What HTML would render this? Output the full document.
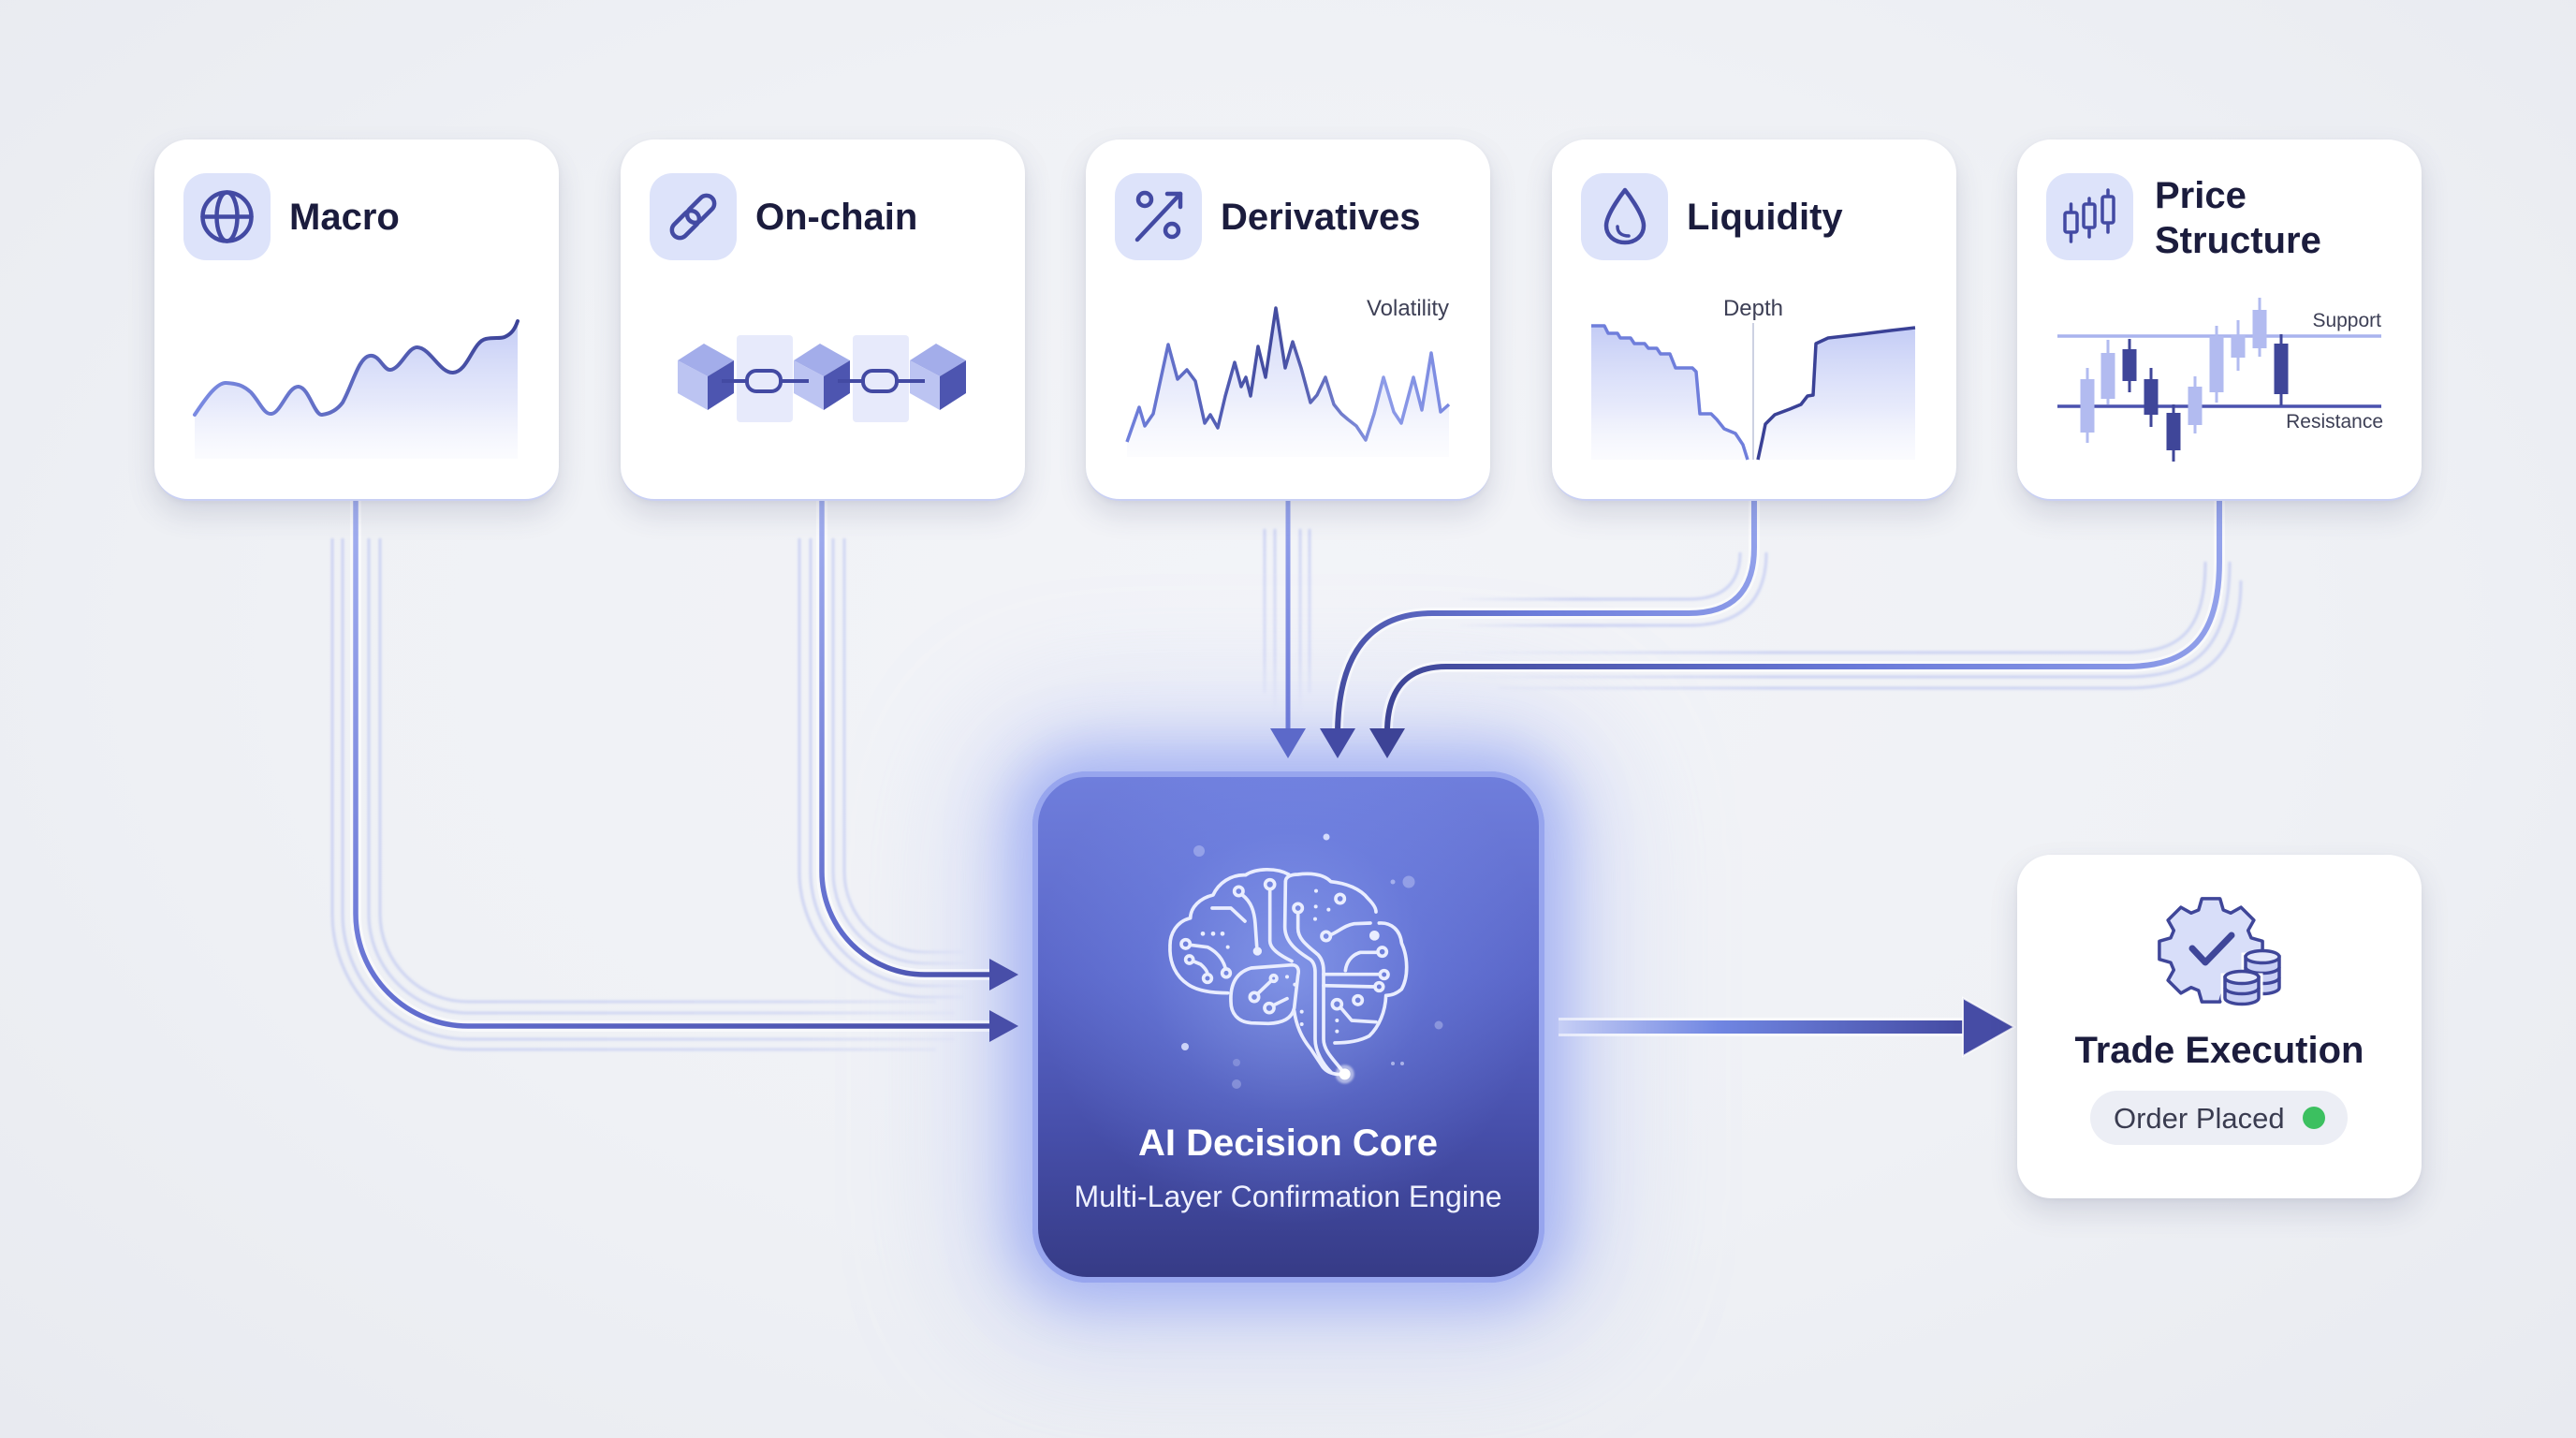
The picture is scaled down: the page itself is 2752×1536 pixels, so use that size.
<!DOCTYPE html>
<html><head><meta charset="utf-8">
<style>
html,body{margin:0;padding:0}
body{width:2752px;height:1536px;position:relative;overflow:hidden;background:#eef0f4;font-family:"Liberation Sans",Arial,sans-serif}
.bg{position:absolute;left:0;top:0;width:2752px;height:1536px;background:radial-gradient(ellipse at 50% 45%,#f3f4f8 0%,#eff1f5 55%,#e8eaf0 100%)}
.card{position:absolute;background:#fff;border-radius:36px;box-shadow:0 14px 30px rgba(60,70,110,0.16),0 2px 6px rgba(60,70,110,0.06);border-bottom:2px solid #c9d0f4;box-sizing:border-box}
.glow{position:absolute;left:1103px;top:824px;width:547px;height:546px;border-radius:58px;background:#8f9de8;box-shadow:0 0 60px 24px rgba(125,145,240,0.55),0 0 170px 70px rgba(165,180,245,0.35)}
.node{position:absolute;left:1103px;top:824px;width:547px;height:546px;border-radius:58px;box-sizing:border-box;border:6px solid #97a5ee;background:radial-gradient(circle at 50% 39%,rgba(160,185,255,0.55) 0,rgba(125,150,245,0.25) 150px,rgba(0,0,0,0) 270px),linear-gradient(180deg,#6f7edc 0%,#5a66c8 40%,#464ea9 72%,#363b86 100%)}
svg{position:absolute;left:0;top:0}
</style></head>
<body>
<div class="bg"></div>
<div class="glow"></div>

<svg width="2752" height="1536" viewBox="0 0 2752 1536" style="z-index:1">
<defs>
<linearGradient id="gMacro" gradientUnits="userSpaceOnUse" x1="380" y1="534" x2="1088" y2="1096"><stop offset="0" stop-color="#a3b0f0"/><stop offset="0.38" stop-color="#6470d2"/><stop offset="1" stop-color="#454ba4"/></linearGradient>
<linearGradient id="gChain" gradientUnits="userSpaceOnUse" x1="878" y1="534" x2="1088" y2="1041"><stop offset="0" stop-color="#a3b0f0"/><stop offset="0.8" stop-color="#5e6acc"/><stop offset="1" stop-color="#454ba4"/></linearGradient>
<linearGradient id="gDeriv" gradientUnits="userSpaceOnUse" x1="0" y1="534" x2="0" y2="810"><stop offset="0" stop-color="#95a3ec"/><stop offset="1" stop-color="#6673d4"/></linearGradient>
<linearGradient id="gLiq" gradientUnits="userSpaceOnUse" x1="1874" y1="534" x2="1430" y2="800"><stop offset="0" stop-color="#95a4ec"/><stop offset="0.5" stop-color="#6d7ddb"/><stop offset="1" stop-color="#3f4699"/></linearGradient>
<linearGradient id="gPrice" gradientUnits="userSpaceOnUse" x1="2371" y1="534" x2="1482" y2="800"><stop offset="0" stop-color="#95a4ec"/><stop offset="0.45" stop-color="#6a7ad9"/><stop offset="1" stop-color="#3b4293"/></linearGradient>
<linearGradient id="gOut" gradientUnits="userSpaceOnUse" x1="1660" y1="0" x2="2100" y2="0"><stop offset="0" stop-color="#c9d1f6"/><stop offset="0.4" stop-color="#7086e2"/><stop offset="1" stop-color="#444aa2"/></linearGradient>
<linearGradient id="fMacro" gradientUnits="userSpaceOnUse" x1="380" y1="0" x2="1060" y2="0"><stop offset="0" stop-color="#97a5ed" stop-opacity="0.4"/><stop offset="0.7" stop-color="#97a5ed" stop-opacity="0.32"/><stop offset="1" stop-color="#97a5ed" stop-opacity="0"/></linearGradient>
<linearGradient id="fChain" gradientUnits="userSpaceOnUse" x1="870" y1="0" x2="1040" y2="0"><stop offset="0" stop-color="#97a5ed" stop-opacity="0.4"/><stop offset="0.6" stop-color="#97a5ed" stop-opacity="0.3"/><stop offset="1" stop-color="#97a5ed" stop-opacity="0"/></linearGradient>
<linearGradient id="fDeriv" gradientUnits="userSpaceOnUse" x1="0" y1="560" x2="0" y2="760"><stop offset="0" stop-color="#97a5ed" stop-opacity="0.4"/><stop offset="0.7" stop-color="#97a5ed" stop-opacity="0.28"/><stop offset="1" stop-color="#97a5ed" stop-opacity="0"/></linearGradient>
<linearGradient id="fLiq" gradientUnits="userSpaceOnUse" x1="1880" y1="0" x2="1550" y2="0"><stop offset="0" stop-color="#97a5ed" stop-opacity="0.4"/><stop offset="0.6" stop-color="#8d9cea" stop-opacity="0.38"/><stop offset="1" stop-color="#97a5ed" stop-opacity="0"/></linearGradient>
<linearGradient id="fPrice" gradientUnits="userSpaceOnUse" x1="2390" y1="0" x2="1560" y2="0"><stop offset="0" stop-color="#97a5ed" stop-opacity="0.4"/><stop offset="0.6" stop-color="#8d9cea" stop-opacity="0.38"/><stop offset="1" stop-color="#97a5ed" stop-opacity="0"/></linearGradient>
<filter id="soft" x="-5%" y="-5%" width="110%" height="110%"><feGaussianBlur stdDeviation="1.3"/></filter>
</defs>

<g fill="none" stroke-width="3" filter="url(#soft)">
<g stroke="url(#fMacro)">
<path d="M406,575 V976 A94,94 0 0 0 500,1070 H1000"/>
<path d="M394,575 V976 A106,106 0 0 0 500,1082 H1020"/>
<path d="M366,575 V976 A134,134 0 0 0 500,1110 H1020"/>
<path d="M355,575 V976 A145,145 0 0 0 500,1121 H1000"/>
</g>
<g stroke="url(#fChain)">
<path d="M902,575 V931 A86,86 0 0 0 988,1017 H1030"/>
<path d="M890,575 V931 A98,98 0 0 0 988,1029 H1040"/>
<path d="M866,575 V931 A122,122 0 0 0 988,1053 H1040"/>
<path d="M854,575 V931 A134,134 0 0 0 988,1065 H1030"/>
</g>
<g stroke="url(#fDeriv)">
<path d="M1351,565 V740"/><path d="M1362,565 V760"/><path d="M1389,565 V760"/><path d="M1399,565 V740"/>
</g>
<g stroke="url(#fLiq)">
<path d="M1887,590 Q1887,668 1804,668 H1560"/>
<path d="M1859,590 Q1859,640 1804,640 H1560"/>
</g>
<g stroke="url(#fPrice)">
<path d="M2356,600 C2356,672 2330,697 2271,697 H1560"/>
<path d="M2382,600 C2382,690 2348,723 2271,723 H1560"/>
<path d="M2394,620 C2394,700 2355,735 2271,735 H1600"/>
</g>
</g>

<g fill="none" stroke="#ffffff" stroke-opacity="0.55" stroke-width="12">
<path d="M380,534 V976 A120,120 0 0 0 500,1096 H1060"/>
<path d="M878,534 V931 A110,110 0 0 0 988,1041 H1060"/>
<path d="M1874,534 V585 Q1874,655 1804,655 H1530 C1462,655 1430,700 1429,780"/>
<path d="M2371,534 V600 C2371,680 2340,712 2271,712 H1545 C1500,712 1482,740 1482,780"/>
</g>

<g fill="none" stroke-width="5.5" stroke-linecap="round">
<path d="M380,534 V976 A120,120 0 0 0 500,1096 H1062" stroke="url(#gMacro)"/>
<path d="M878,534 V931 A110,110 0 0 0 988,1041 H1062" stroke="url(#gChain)"/>
<path d="M1376,534 V782" stroke="url(#gDeriv)" stroke-width="5"/>
<path d="M1874,534 V585 Q1874,655 1804,655 H1530 C1462,655 1430,700 1429,782" stroke="url(#gLiq)" stroke-width="6"/>
<path d="M2371,534 V600 C2371,680 2340,712 2271,712 H1545 C1500,712 1482,740 1482,782" stroke="url(#gPrice)" stroke-width="6"/>
</g>

<polygon points="1357,778 1376,810 1395,778" fill="#5c69c9"/>
<polygon points="1410,778 1429,810 1448,778" fill="#434aa4"/>
<polygon points="1463,778 1482,810 1501,778" fill="#3d4396"/>
<polygon points="1057,1024 1088,1041 1057,1058" fill="#484ea8"/>
<polygon points="1057,1079 1088,1096 1057,1113" fill="#484ea8"/>

<path d="M1665,1097 H2104" stroke="#ffffff" stroke-opacity="0.6" stroke-width="20"/>
<path d="M1665,1097 H2104" stroke="url(#gOut)" stroke-width="14"/>
<polygon points="2097,1066 2152,1097 2097,1128" fill="#464ca5" stroke="#ffffff" stroke-width="2" stroke-opacity="0.8"/>
</svg>

<div class="card" style="left:165px;top:149px;width:432px;height:386px;z-index:2"></div>
<div class="card" style="left:663px;top:149px;width:432px;height:386px;z-index:2"></div>
<div class="card" style="left:1160px;top:149px;width:432px;height:386px;z-index:2"></div>
<div class="card" style="left:1658px;top:149px;width:432px;height:386px;z-index:2"></div>
<div class="card" style="left:2155px;top:149px;width:432px;height:386px;z-index:2"></div>
<div class="card" style="left:2155px;top:913px;width:432px;height:367px;z-index:2;border-bottom:none"></div>
<div class="node" style="z-index:2"></div>

<svg width="2752" height="1536" viewBox="0 0 2752 1536" style="z-index:3" font-family="'Liberation Sans', Arial, sans-serif">
<defs>
<linearGradient id="area" x1="0" y1="0" x2="0" y2="1"><stop offset="0" stop-color="#c0c9f5" stop-opacity="0.95"/><stop offset="0.6" stop-color="#d9def9" stop-opacity="0.65"/><stop offset="1" stop-color="#f1f3fc" stop-opacity="0.3"/></linearGradient>
<linearGradient id="lMacro" gradientUnits="userSpaceOnUse" x1="208" y1="0" x2="553" y2="0"><stop offset="0" stop-color="#7a8ae2"/><stop offset="1" stop-color="#3c4398"/></linearGradient>
<linearGradient id="lDeriv" gradientUnits="userSpaceOnUse" x1="1204" y1="0" x2="1548" y2="0"><stop offset="0" stop-color="#7080dc"/><stop offset="0.45" stop-color="#424a9e"/><stop offset="0.8" stop-color="#8d9be8"/><stop offset="1" stop-color="#7a89e0"/></linearGradient>
<filter id="dglow" x="-100%" y="-100%" width="300%" height="300%"><feGaussianBlur stdDeviation="3"/></filter>
</defs>

<g fill="#dde3fa">
<rect x="196" y="185" width="93" height="93" rx="24"/>
<rect x="694" y="185" width="93" height="93" rx="24"/>
<rect x="1191" y="185" width="93" height="93" rx="24"/>
<rect x="1689" y="185" width="93" height="93" rx="24"/>
<rect x="2186" y="185" width="93" height="93" rx="24"/>
</g>
<g fill="none" stroke="#434aa3" stroke-width="4.5" stroke-linecap="round" stroke-linejoin="round">
<circle cx="242.5" cy="231.5" r="26"/>
<ellipse cx="242.5" cy="231.5" rx="11" ry="26"/>
<line x1="216.5" y1="231.5" x2="268.5" y2="231.5"/>
<g transform="rotate(-45 740.5 231.5)">
<rect x="712" y="223" width="34" height="17" rx="8.5"/>
<rect x="735" y="223" width="34" height="17" rx="8.5"/>
</g>
<circle cx="1223" cy="213" r="7"/>
<circle cx="1252" cy="246" r="7"/>
<line x1="1215" y1="256" x2="1261" y2="207"/>
<polyline points="1247,207 1261,207 1261,221"/>
<path d="M1736,203 C1736,203 1716,228 1716,241 C1716,252 1725,259 1736,259 C1747,259 1756,252 1756,241 C1756,228 1736,203 1736,203 Z"/>
<path d="M1728,242 C1728,249 1733,252 1740,252" stroke-width="3.5"/>
<g stroke-width="3.5" fill="#dde3fa">
<line x1="2212.5" y1="218" x2="2212.5" y2="258"/><rect x="2206" y="227" width="13" height="21" rx="2"/>
<line x1="2232" y1="212" x2="2232" y2="253"/><rect x="2226" y="218" width="12" height="25" rx="2"/>
<line x1="2252" y1="203" x2="2252" y2="248"/><rect x="2246" y="210" width="12" height="28" rx="2"/>
</g>
</g>

<g fill="#1b1c3d" font-size="40" font-weight="bold">
<text x="309" y="245">Macro</text>
<text x="807" y="245">On-chain</text>
<text x="1304" y="245">Derivatives</text>
<text x="1802" y="245">Liquidity</text>
<text x="2302" y="222">Price</text>
<text x="2302" y="270">Structure</text>
</g>

<path d="M208,443 C220,425 232,408 242,409 C255,410 260,412 268,419 C278,430 282,443 290,442 C300,441 308,412 319,413 C330,414 336,444 344,443 C352,442 360,438 366,430 C377,410 383,382 395,380 C405,378 410,396 417,395 C428,394 436,370 446,371 C460,372 470,399 484,398 C500,397 505,365 519,362 C528,360 534,362 539,360 C546,357 550,352 553,343 L553,490 L208,490 Z" fill="url(#area)"/>
<path d="M208,443 C220,425 232,408 242,409 C255,410 260,412 268,419 C278,430 282,443 290,442 C300,441 308,412 319,413 C330,414 336,444 344,443 C352,442 360,438 366,430 C377,410 383,382 395,380 C405,378 410,396 417,395 C428,394 436,370 446,371 C460,372 470,399 484,398 C500,397 505,365 519,362 C528,360 534,362 539,360 C546,357 550,352 553,343" fill="none" stroke="url(#lMacro)" stroke-width="4" stroke-linecap="round"/>

<rect x="787" y="358" width="60" height="93" rx="4" fill="#e7eafb"/>
<rect x="911" y="358" width="60" height="93" rx="4" fill="#e7eafb"/>
<g id="cube">
<polygon points="752,367 784,385 756,402 724,385" fill="#a3adea"/>
<polygon points="724,385 756,402 756,438 724,420" fill="#bcc4f2"/>
<polygon points="756,402 784,385 784,420 756,438" fill="#4d55b0"/>
</g>
<use href="#cube" x="124"/>
<use href="#cube" x="248"/>
<g stroke="#434aa3" stroke-width="4" fill="none">
<line x1="771" y1="407" x2="864" y2="407"/>
<line x1="895" y1="407" x2="988" y2="407"/>
<rect x="798" y="396" width="36" height="22" rx="10" fill="#e7eafb"/>
<rect x="922" y="396" width="36" height="22" rx="10" fill="#e7eafb"/>
</g>

<polygon points="1204,472 1217,435 1223,455 1232,442 1248,368 1258,405 1268,395 1277,407 1287,452 1293,443 1301,457 1309,423 1319,387 1326,413 1331,403 1336,423 1344,370 1352,403 1363,329 1373,393 1381,365 1390,393 1400,430 1407,422 1416,403 1425,432 1433,442 1440,448 1449,455 1459,470 1468,442 1478,403 1489,440 1497,452 1510,403 1519,438 1529,377 1539,440 1548,432 1548,488 1204,488" fill="url(#area)" opacity="0.8"/>
<polyline points="1204,472 1217,435 1223,455 1232,442 1248,368 1258,405 1268,395 1277,407 1287,452 1293,443 1301,457 1309,423 1319,387 1326,413 1331,403 1336,423 1344,370 1352,403 1363,329 1373,393 1381,365 1390,393 1400,430 1407,422 1416,403 1425,432 1433,442 1440,448 1449,455 1459,470 1468,442 1478,403 1489,440 1497,452 1510,403 1519,438 1529,377 1539,440 1548,432" fill="none" stroke="url(#lDeriv)" stroke-width="3.5" stroke-linejoin="round"/>
<text x="1548" y="337" font-size="24" fill="#3d3f55" text-anchor="end">Volatility</text>

<path d="M1700,348 H1714 L1718,356 H1728 L1731,361 H1742 L1746,367 H1757 L1761,372 H1770 L1774,378 H1784 L1790,393 H1808 L1812,397 L1816,442 H1828 L1834,448 L1842,458 L1854,463 L1862,475 L1867,491 L1700,491 Z" fill="url(#area)"/>
<path d="M1878,491 L1883,468 L1886,453 L1896,443 L1912,437 L1924,432 L1931,423 L1937,422 L1940,367 L1953,361 L1988,357 L2020,353 L2046,350 L2046,491 Z" fill="url(#area)"/>
<line x1="1873" y1="345" x2="1873" y2="491" stroke="#cdd1e2" stroke-width="2"/>
<path d="M1700,348 H1714 L1718,356 H1728 L1731,361 H1742 L1746,367 H1757 L1761,372 H1770 L1774,378 H1784 L1790,393 H1808 L1812,397 L1816,442 H1828 L1834,448 L1842,458 L1854,463 L1862,475 L1867,491" fill="none" stroke="#6f7edb" stroke-width="3.5" stroke-linejoin="round"/>
<path d="M1878,491 L1883,468 L1886,453 L1896,443 L1912,437 L1924,432 L1931,423 L1937,422 L1940,367 L1953,361 L1988,357 L2020,353 L2046,350" fill="none" stroke="#3a4196" stroke-width="3.5" stroke-linejoin="round"/>
<text x="1873" y="337" font-size="24" fill="#3d3f55" text-anchor="middle">Depth</text>

<line x1="2198" y1="359" x2="2544" y2="359" stroke="#a9b3ee" stroke-width="3.5"/>
<line x1="2198" y1="434" x2="2544" y2="434" stroke="#4b52ae" stroke-width="3.5"/>
<g fill="#b2bbf0" stroke="#b2bbf0">
<line x1="2230" y1="393" x2="2230" y2="473" stroke-width="3"/><rect x="2222.5" y="405" width="15" height="57" stroke="none"/>
<line x1="2252" y1="363" x2="2252" y2="432" stroke-width="3"/><rect x="2244.5" y="377" width="15" height="49" stroke="none"/>
<line x1="2345" y1="402" x2="2345" y2="463" stroke-width="3"/><rect x="2337.5" y="413" width="15" height="41" stroke="none"/>
<line x1="2368" y1="348" x2="2368" y2="430" stroke-width="3"/><rect x="2360.5" y="359" width="15" height="60" stroke="none"/>
<line x1="2391" y1="342" x2="2391" y2="396" stroke-width="3"/><rect x="2383.5" y="358" width="15" height="24" stroke="none"/>
<line x1="2414" y1="318" x2="2414" y2="381" stroke-width="3"/><rect x="2406.5" y="331" width="15" height="41" stroke="none"/>
</g>
<g fill="#3f4699" stroke="#3f4699">
<line x1="2275" y1="362" x2="2275" y2="419" stroke-width="3"/><rect x="2267.5" y="373" width="15" height="34" stroke="none"/>
<line x1="2298" y1="393" x2="2298" y2="456" stroke-width="3"/><rect x="2290.5" y="405" width="15" height="38" stroke="none"/>
<line x1="2322" y1="432" x2="2322" y2="493" stroke-width="3"/><rect x="2314.5" y="441" width="15" height="40" stroke="none"/>
<line x1="2437" y1="357" x2="2437" y2="433" stroke-width="3"/><rect x="2429.5" y="367" width="15" height="54" stroke="none"/>
</g>
<text x="2544" y="349" font-size="21" fill="#3d3f55" text-anchor="end">Support</text>
<text x="2546" y="457" font-size="21" fill="#3d3f55" text-anchor="end">Resistance</text>

<g fill="#dfe5ff">
<circle cx="1417" cy="894" r="3.5" opacity="0.9"/>
<circle cx="1281" cy="909" r="6" opacity="0.35"/>
<circle cx="1505" cy="942" r="6.5" opacity="0.35"/>
<circle cx="1488" cy="942" r="2.5" opacity="0.5"/>
<circle cx="1266" cy="1118" r="4" opacity="0.85"/>
<circle cx="1321" cy="1158" r="5" opacity="0.3"/>
<circle cx="1321" cy="1135" r="4" opacity="0.25"/>
<circle cx="1537" cy="1095" r="4.5" opacity="0.35"/>
<circle cx="1488" cy="1136" r="2" opacity="0.6"/>
<circle cx="1498" cy="1136" r="2" opacity="0.6"/>
</g>

<g transform="translate(1240,910) scale(0.33333)" fill="none" stroke-linecap="round" stroke-linejoin="round">
<g stroke="#e9edff" stroke-width="11">
<path d="M410,72 C370,50 305,52 272,74 C225,72 185,100 168,138 C125,148 96,178 95,212 C52,222 28,262 30,305 C28,355 48,398 88,425 C118,445 165,452 215,452"/>
<path d="M165,180 L225,180 L270,222"/>
<path d="M225,480 C222,420 245,385 290,372 L420,362 C438,362 445,375 440,395 L428,500 C420,535 390,548 345,550 L290,548 C245,545 225,515 225,480 Z"/>
<path d="M428,510 C435,560 455,600 480,630 L520,690 C535,708 560,715 590,712"/>
<path d="M400,95 L398,240 C398,290 440,320 480,345 C492,355 495,370 495,385 L495,600 C495,640 520,680 545,705"/>
<path d="M440,195 L440,245 C440,280 470,300 505,330 C518,345 522,360 522,380 L522,600 C522,640 560,670 590,712"/>
<path d="M350,120 L350,285 C350,310 380,330 420,350"/>
<path d="M400,95 C400,78 420,72 440,72 C470,68 520,68 545,95 C595,100 640,118 665,150 C680,165 690,180 690,192"/>
<path d="M700,228 C740,225 768,252 772,292 C792,335 795,400 772,440 C755,455 738,460 722,460 C720,512 700,560 668,590 C638,606 600,612 558,612"/>
<path d="M544,266 C570,255 590,235 620,230 L672,228"/>
<path d="M696,322 L640,322 C610,330 595,355 592,380"/>
<path d="M522,392 L700,392"/>
<path d="M522,428 L686,432"/>
<path d="M578,500 L612,540 L690,545"/>
<path d="M262,138 C290,160 300,190 303,230 L308,302"/>
<path d="M94,298 L150,305 C180,320 200,345 208,374"/>
<path d="M104,350 L128,360 C145,375 150,385 150,392"/>
<path d="M310,455 L352,415"/>
<path d="M360,492 L405,470"/>
<circle cx="350" cy="104" r="15"/>
<circle cx="440" cy="180" r="14"/>
<circle cx="250" cy="126" r="14"/>
<circle cx="530" cy="270" r="14"/>
<circle cx="710" cy="320" r="14"/>
<circle cx="716" cy="393" r="13"/>
<circle cx="700" cy="432" r="13"/>
<circle cx="565" cy="488" r="15"/>
<circle cx="632" cy="475" r="14"/>
<circle cx="80" cy="295" r="14"/>
<circle cx="210" cy="388" r="13"/>
<circle cx="92" cy="345" r="12"/>
<circle cx="150" cy="405" r="13"/>
<circle cx="300" cy="465" r="14"/>
<circle cx="362" cy="405" r="10"/>
<circle cx="348" cy="500" r="15"/>
<circle cx="575" cy="150" r="14"/>
</g>
<g fill="#e9edff">
<circle cx="310" cy="318" r="14"/>
<circle cx="685" cy="268" r="16"/>
<circle cx="135" cy="262" r="7"/><circle cx="168" cy="262" r="7"/><circle cx="198" cy="262" r="7"/>
<circle cx="215" cy="305" r="6"/><circle cx="498" cy="125" r="6"/><circle cx="497" cy="175" r="6"/>
<circle cx="538" cy="185" r="6"/><circle cx="495" cy="215" r="6"/><circle cx="452" cy="512" r="6"/>
<circle cx="452" cy="552" r="6"/><circle cx="565" cy="540" r="6"/><circle cx="565" cy="575" r="6"/>
<circle cx="405" cy="400" r="6"/><circle cx="430" cy="425" r="6"/>
</g>
<circle cx="590" cy="712" r="30" fill="#ffffff" opacity="0.5" filter="url(#dglow)"/>
<circle cx="590" cy="712" r="18" fill="#ffffff"/>
</g>

<text x="1376" y="1234" font-size="40" font-weight="bold" fill="#ffffff" text-anchor="middle">AI Decision Core</text>
<text x="1376" y="1289" font-size="32" fill="#eef0ff" text-anchor="middle">Multi-Layer Confirmation Engine</text>

<polygon points="2405.0,1001.8 2417.1,1005.3 2417.1,1024.7 2405.0,1028.2 2401.7,1036.1 2407.9,1047.1 2394.1,1060.9 2383.1,1054.7 2375.2,1058.0 2371.7,1070.1 2352.3,1070.1 2348.8,1058.0 2340.9,1054.7 2329.9,1060.9 2316.1,1047.1 2322.3,1036.1 2319.0,1028.2 2306.9,1024.7 2306.9,1005.3 2319.0,1001.8 2322.3,993.9 2316.1,982.9 2329.9,969.1 2340.9,975.3 2348.8,972.0 2352.3,959.9 2371.7,959.9 2375.2,972.0 2383.1,975.3 2394.1,969.1 2407.9,982.9 2401.7,993.9" fill="#d8def9" stroke="#3f4699" stroke-width="3.5" stroke-linejoin="round"/>
<polyline points="2342,1013 2356,1028 2384,999" fill="none" stroke="#3f4699" stroke-width="7" stroke-linecap="round" stroke-linejoin="round"/>
<g stroke="#3f4699" stroke-width="3.5">
<path d="M2399,1022 V1055 A18,6.5 0 0 0 2435,1055 V1022 Z" fill="#c9d0f5" stroke="#ffffff" stroke-width="9"/>
<path d="M2399,1022 V1055 A18,6.5 0 0 0 2435,1055 V1022 Z" fill="#c9d0f5"/>
<path d="M2399,1033 A18,6.5 0 0 0 2435,1033 M2399,1044 A18,6.5 0 0 0 2435,1044" fill="none"/>
<ellipse cx="2417" cy="1022" rx="18" ry="6.5" fill="#e3e7fb"/>
<path d="M2377,1044 V1066 A18,6.5 0 0 0 2413,1066 V1044 Z" fill="#c9d0f5" stroke="#ffffff" stroke-width="9"/>
<path d="M2377,1044 V1066 A18,6.5 0 0 0 2413,1066 V1044 Z" fill="#c9d0f5"/>
<path d="M2377,1055 A18,6.5 0 0 0 2413,1055" fill="none"/>
<ellipse cx="2395" cy="1044" rx="18" ry="6.5" fill="#e3e7fb"/>
</g>
<text x="2371" y="1135" font-size="40" font-weight="bold" fill="#1b1c3d" text-anchor="middle">Trade Execution</text>
<rect x="2233" y="1165" width="275" height="58" rx="29" fill="#eceef5"/>
<text x="2258" y="1205" font-size="31" fill="#3a3c50">Order Placed</text>
<circle cx="2472" cy="1194" r="12" fill="#3cc060"/>
</svg>
</body></html>
